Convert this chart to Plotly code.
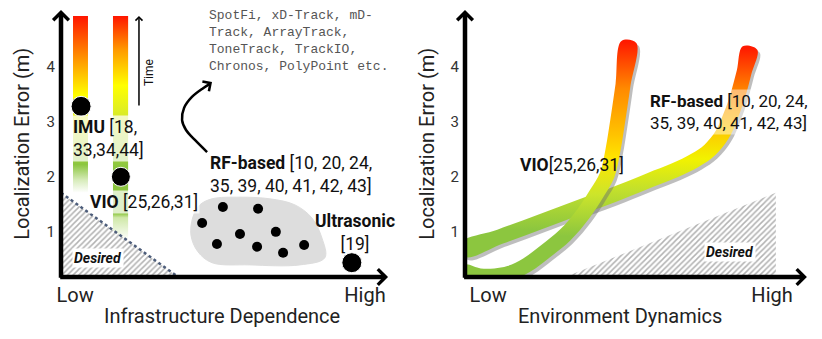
import numpy as np
import plotly.graph_objects as go

# ---- data (x: 0..10 along each horizontal axis, y: localization error in m) ----
err_ticks = [1, 2, 3, 4]
x_ticktext = ["Low", "High"]
left_xticks = [0.43, 9.24]
right_xticks = [0.67, 8.9]

# left panel: vertical "time" bars for IMU and VIO
imu_bar_x = [0.365, 0.82]
imu_bar_y = [1.71, 4.92]
vio_bar_x = [1.58, 2.04]
vio_bar_y = [0.85, 4.92]

big_dot_x = [0.61, 1.82, 8.84]
big_dot_y = [3.28, 2.00, 0.44]
big_dot_size = [20, 19, 20]

rf_dot_x = [4.29, 4.92, 5.99, 5.44, 6.53, 4.74, 5.96, 6.75, 7.39]
rf_dot_y = [1.16, 1.45, 1.42, 0.96, 1.00, 0.78, 0.73, 0.62, 0.76]

rf_blob_x = [5.74, 4.59, 4.16, 3.95, 4.01, 4.22, 4.59, 5.44, 6.35, 7.11, 7.63, 7.93, 8.02, 7.26, 5.74]
rf_blob_y = [0.40, 0.44, 0.64, 0.94, 1.27, 1.49, 1.60, 1.63, 1.60, 1.49, 1.25, 0.89, 0.53, 0.40, 0.40]

desired_left_x = [0.0, 0.0, 3.56, 0.0]
desired_left_y = [1.71, 0.18, 0.18, 1.71]

curl_x = [4.44, 4.07, 3.80, 3.68, 3.74, 3.98, 4.32, 4.50]
curl_y = [2.45, 2.67, 2.85, 3.03, 3.25, 3.45, 3.61, 3.68]

# right panel: error vs environment dynamics
vio_curve_x = [-0.06, 0.43, 0.87, 1.30, 1.80, 2.32, 2.90, 3.42, 3.83, 4.12, 4.29, 4.43, 4.58, 4.75]
vio_curve_y = [0.27, 0.20, 0.20, 0.25, 0.40, 0.64, 0.94, 1.32, 1.71, 2.03, 2.49, 3.03, 3.67, 4.45]
rf_curve_x = [-0.06, 1.01, 2.17, 3.33, 4.49, 5.36, 6.09, 6.67, 7.10, 7.45, 7.71, 7.91, 8.09, 8.26]
rf_curve_y = [0.67, 0.91, 1.18, 1.45, 1.72, 1.94, 2.12, 2.30, 2.49, 2.76, 3.12, 3.48, 3.90, 4.34]

desired_right_x = [2.9, 9.01, 9.01, 2.9]
desired_right_y = [0.18, 1.71, 0.18, 0.18]

# ---- page geometry (the page body adds an 8px offset) ----
OFF = 8
W, H = 822 - OFF, 339 - OFF
PX_XR = 34.5   # px per unit, right x axis
PX_Y = 55.1    # px per metre, both y axes
GREEN = "#8cc63f"


def fx(px):
    return (px - OFF) / W


def fy(py):
    return (H - (py - OFF)) / H


def ribbon(xs, ys, sx, half=7.5, shift=(0, 0)):
    px = np.array(xs) * sx + shift[0]
    py = np.array(ys) * PX_Y - shift[1]
    dx, dy = np.gradient(px), np.gradient(py)
    n = np.hypot(dx, dy)
    nx, ny = -dy / n, dx / n
    ox = np.concatenate([px + nx * half, (px - nx * half)[::-1]])
    oy = np.concatenate([py + ny * half, (py - ny * half)[::-1]])
    ox = np.append(ox, ox[0])
    oy = np.append(oy, oy[0])
    return ox / sx, oy / PX_Y


def rect(xr, yr):
    return [xr[0], xr[1], xr[1], xr[0], xr[0]], [yr[0], yr[0], yr[1], yr[1], yr[0]]


fig = go.Figure()

# gradient bars
bar_scales = [
    [[0, "white"], [0.07, "#d8ecbc"], [0.16, GREEN], [0.37, "#d7ea2c"], [0.55, "#ffff00"],
     [0.75, "#ff9900"], [1, "#ff1500"]],
    [[0, "white"], [0.1, "#cfe8a8"], [0.12, GREEN], [0.33, GREEN], [0.55, "#d7ea2c"],
     [0.69, "#ffff00"], [0.85, "#ff9900"], [1, "#ff1500"]],
]
for (bx, by), cs in zip([(imu_bar_x, imu_bar_y), (vio_bar_x, vio_bar_y)], bar_scales):
    rx, ry = rect(bx, by)
    fig.add_trace(go.Scatter(x=rx, y=ry, fill="toself", mode="none",
                             fillgradient=dict(type="vertical", colorscale=cs,
                                               start=by[0], stop=by[1]),
                             hoverinfo="skip"))

hatch = dict(shape="/", size=4, solidity=0.38, fgcolor="#666", bgcolor="white")

# desired region (left)
fig.add_trace(go.Scatter(x=desired_left_x, y=desired_left_y, fill="toself", mode="none",
                         fillpattern=hatch, hoverinfo="skip"))
fig.add_trace(go.Scatter(x=[desired_left_x[0], desired_left_x[2]], y=[desired_left_y[0], desired_left_y[2]],
                         mode="lines", line=dict(color="#4d5d7a", width=2.5, dash="dot"),
                         hoverinfo="skip"))

# RF blob
fig.add_trace(go.Scatter(x=rf_blob_x, y=rf_blob_y, fill="toself", mode="lines",
                         line=dict(color="#dddddd", width=1, shape="spline"),
                         fillcolor="#dddddd", hoverinfo="skip"))
fig.add_trace(go.Scatter(x=rf_dot_x, y=rf_dot_y, mode="markers",
                         marker=dict(color="black", size=10, opacity=1), hoverinfo="skip"))
fig.add_trace(go.Scatter(x=big_dot_x, y=big_dot_y, mode="markers",
                         marker=dict(color="black", size=big_dot_size, opacity=1), hoverinfo="skip"))

# curved pointer towards the RF system list
fig.add_trace(go.Scatter(x=curl_x, y=curl_y, mode="lines",
                         line=dict(color="black", width=2.5, shape="spline"), hoverinfo="skip"))

# desired region (right)
fig.add_trace(go.Scatter(x=desired_right_x, y=desired_right_y, fill="toself", mode="none",
                         xaxis="x2", yaxis="y2", fillpattern=hatch, hoverinfo="skip"))

# ribbons with shadow
ribbon_scales = {
    "vio": ([[0, GREEN], [0.17, GREEN], [0.35, "#cde52a"], [0.5, "#ffe600"], [0.6, "#ffc400"],
             [0.8, "#ff8a00"], [1, "#ff1a00"]], 0.2, 4.45, vio_curve_x, vio_curve_y),
    "rf": ([[0, GREEN], [0.1, GREEN], [0.3, "#c3e02c"], [0.45, "#f2f200"], [0.62, "#ffc000"],
            [0.8, "#ff8000"], [1, "#ff1a00"]], 0.67, 4.34, rf_curve_x, rf_curve_y),
}
for key in ["rf", "vio"]:
    cs, y0, y1, cx, cy = ribbon_scales[key]
    sx_, sy_ = ribbon(cx, cy, PX_XR, shift=(2.5, 3))
    fig.add_trace(go.Scatter(x=sx_, y=sy_, fill="toself", mode="none", xaxis="x2", yaxis="y2",
                             fillcolor="rgba(110,110,110,0.45)", line_shape="spline",
                             hoverinfo="skip"))
    rx, ry = ribbon(cx, cy, PX_XR)
    fig.add_trace(go.Scatter(x=rx, y=ry, fill="toself", mode="none", xaxis="x2", yaxis="y2",
                             line_shape="spline",
                             fillgradient=dict(type="vertical", colorscale=cs, start=y0, stop=y1),
                             hoverinfo="skip"))

TXT = "#111"
lab = dict(family="Roboto", size=17.5, color=TXT)
ttl = dict(family="Roboto", size=20, color="#222")
anns = []


def arrow(xref, yref, x, y, ax, ay, width, size):
    anns.append(dict(xref=xref, yref=yref, axref=xref, ayref=yref, x=x, y=y, ax=ax, ay=ay,
                     text="", showarrow=True, arrowhead=4, arrowwidth=width, arrowsize=size,
                     arrowcolor="black"))


# axes arrows
arrow("x", "y", 0, 5.03, 0, 0.14, 4.5, 0.67)
arrow("x", "y", 9.94, 0.18, -0.07, 0.18, 4.5, 0.67)
arrow("x2", "y2", 0, 5.03, 0, 0.14, 4.5, 0.67)
arrow("x2", "y2", 9.91, 0.18, -0.07, 0.18, 4.5, 0.67)
# time arrow and curl head
arrow("x", "y", 2.37, 4.92, 2.37, 3.27, 1.5, 0.9)
arrow("x", "y", 4.59, 3.72, 4.44, 3.66, 2.5, 0.9)

anns += [
    dict(xref="x", yref="y", x=0.30, y=2.70, xanchor="left", align="left",
         text="<b>IMU</b> [18,<br>33,34,44]", font=lab, bgcolor="rgba(255,255,255,0.72)",
         showarrow=False, borderpad=1),
    dict(xref="x", yref="y", x=0.82, y=1.54, xanchor="left", text="<b>VIO</b> [25,26,31]",
         font=lab, bgcolor="rgba(255,255,255,0.72)", showarrow=False, borderpad=1),
    dict(xref="x", yref="y", x=4.47, y=2.05, xanchor="left", align="left",
         text="<b>RF-based</b> [10, 20, 24,<br>35, 39, 40, 41, 42, 43]", font=lab, showarrow=False),
    dict(xref="x", yref="y", x=8.94, y=0.98, xanchor="center",
         text="<b>Ultrasonic</b><br>[19]", font=lab, showarrow=False),
    dict(xref="x", yref="y", x=1.12, y=0.53, xanchor="center", text="<b><i>Desired</i></b>",
         font=dict(family="Roboto", size=14, color=TXT), bgcolor="white", showarrow=False),
    dict(xref="x", yref="y", x=2.67, y=3.9, xanchor="center", text="Time", textangle=-90,
         font=dict(family="Roboto", size=12, color=TXT), showarrow=False),
    dict(xref="x", yref="paper", x=4.44, y=1, yshift=2, xanchor="left", yanchor="top", align="left",
         text="SpotFi, xD-Track, mD-<br>Track, ArrayTrack,<br>ToneTrack, TrackIO,<br>"
              "Chronos, PolyPoint etc.",
         font=dict(family="Liberation Mono", size=13, color="#555"), showarrow=False),
    dict(xref="x2", yref="y2", x=1.54, y=2.21, xanchor="left", text="<b>VIO</b>[25,26,31]",
         font=lab, showarrow=False),
    dict(xref="x2", yref="y2", x=5.3, y=3.18, xanchor="left", align="left",
         text="<b>RF-based</b> [10, 20, 24,<br>35, 39, 40, 41, 42, 43]",
         font=dict(family="Roboto", size=17, color=TXT),
         bgcolor="rgba(255,255,255,0.45)", showarrow=False),
    dict(xref="x2", yref="y2", x=7.68, y=0.64, xanchor="center", text="<b><i>Desired</i></b>",
         font=dict(family="Roboto", size=14, color=TXT), bgcolor="white", showarrow=False),
    # axis titles
    dict(xref="x", yref="paper", x=4.89, y=fy(316), xanchor="center", yanchor="middle",
         text="Infrastructure Dependence", font=ttl, showarrow=False),
    dict(xref="x2", yref="paper", x=4.49, y=fy(316), xanchor="center", yanchor="middle",
         text="Environment Dynamics", font=ttl, showarrow=False),
    dict(xref="paper", yref="y", x=fx(22), y=2.6, xanchor="center", yanchor="middle",
         text="Localization Error (m)", textangle=-90, font=ttl, showarrow=False),
    dict(xref="paper", yref="y2", x=fx(427), y=2.6, xanchor="center", yanchor="middle",
         text="Localization Error (m)", textangle=-90, font=ttl, showarrow=False),
]

ydom = [fy(277), fy(10)]
xcommon = dict(range=[0, 10], showgrid=False, zeroline=False, ticks="", showline=False,
               automargin=False, tickfont=dict(family="Roboto", size=20, color="#222"),
               ticklabelstandoff=4)
ycommon = dict(range=[0.18, 5.03], domain=ydom, showgrid=False, zeroline=False, ticks="",
               tickvals=err_ticks, showline=False, automargin=False,
               tickfont=dict(family="Roboto", size=15, color="#333"), ticklabelstandoff=5)

fig.update_layout(
    width=W, height=H, margin=dict(l=0, r=0, t=0, b=0),
    paper_bgcolor="white", plot_bgcolor="white", showlegend=False,
    font=dict(family="Roboto", color=TXT),
    xaxis=dict(xcommon, domain=[fx(61), fx(390)], anchor="y",
               tickvals=left_xticks, ticktext=x_ticktext),
    yaxis=dict(ycommon, anchor="x"),
    xaxis2=dict(xcommon, domain=[fx(465), fx(810)], anchor="y2",
                tickvals=right_xticks, ticktext=x_ticktext),
    yaxis2=dict(ycommon, anchor="x2"),
    annotations=anns,
)

fig.write_html("out.html")
